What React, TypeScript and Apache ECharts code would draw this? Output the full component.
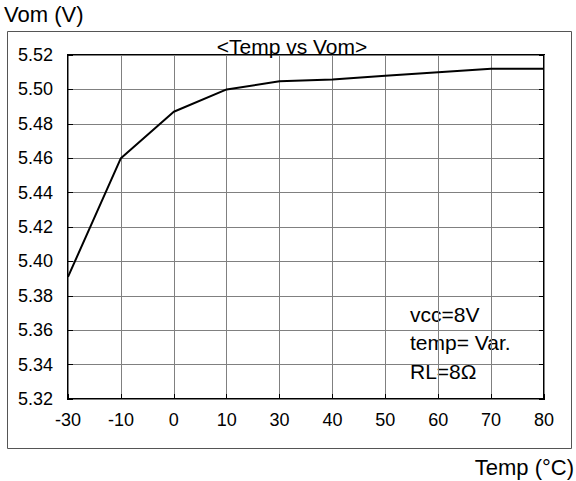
import React, { useEffect, useRef } from "react";
import * as echarts from "echarts";

const categories = ["-30", "-10", "0", "10", "30", "40", "50", "60", "70", "80"];
const vomValues = [5.391, 5.46, 5.487, 5.5, 5.5047, 5.5058, 5.508, 5.51, 5.512, 5.512];
const yMin = 5.32;
const yMax = 5.52;
const yStep = 0.02;
const noteLines = ["vcc=8V", "temp= Var.", "RL=8Ω"];

const FONT = "'Liberation Sans', Arial, sans-serif";

export default function App() {
  const ref = useRef<HTMLDivElement>(null);
  useEffect(() => {
    if (!ref.current) return;
    const chart = echarts.init(ref.current, null, { renderer: "svg" });
    const yAxisBase = {
      type: "value",
      min: yMin,
      max: yMax,
      interval: yStep,
      axisLine: { show: false },
      splitLine: { show: false },
    };
    chart.setOption({
      animation: false,
      backgroundColor: "#fff",
      textStyle: { fontFamily: FONT },
      grid: {
        left: 68,
        right: 32,
        top: 55,
        bottom: 82,
        show: true,
        borderColor: "#000",
        borderWidth: 2,
        backgroundColor: "transparent",
      },
      title: {
        text: "<Temp vs Vom>",
        left: 287,
        top: 31,
        textAlign: "center",
        textStyle: { fontFamily: FONT, fontSize: 21, fontWeight: "normal", color: "#000" },
      },
      xAxis: {
        type: "category",
        data: categories,
        boundaryGap: false,
        axisLine: { show: false },
        axisTick: { show: true, inside: true, length: 5, lineStyle: { color: "#000", width: 1 } },
        axisLabel: { color: "#000", fontSize: 18, fontFamily: FONT, margin: 12 },
        splitLine: { show: true, lineStyle: { color: "#808080", width: 1 } },
      },
      yAxis: [
        {
          ...yAxisBase,
          position: "left",
          axisTick: { show: true, inside: true, length: 5, lineStyle: { color: "#000" } },
          axisLabel: {
            color: "#000",
            fontSize: 18,
            fontFamily: FONT,
            margin: 15,
            formatter: (v: number) => v.toFixed(2),
          },
          splitLine: { show: true, lineStyle: { color: "#808080", width: 1 } },
        },
        {
          ...yAxisBase,
          position: "right",
          axisTick: { show: true, inside: true, length: 5, lineStyle: { color: "#000" } },
          axisLabel: { show: false },
        },
      ],
      series: [
        {
          type: "line",
          data: vomValues,
          symbol: "none",
          lineStyle: { color: "#000", width: 2 },
        },
      ],
      graphic: [
        {
          type: "rect",
          shape: { x: 7.5, y: 31.5, width: 564, height: 417 },
          style: { fill: "none", stroke: "#555", lineWidth: 1 },
          z: -1,
        },
        {
          type: "text",
          x: 4,
          y: 14,
          style: { text: "Vom (V)", fontSize: 22, fontFamily: FONT, fill: "#000", verticalAlign: "middle" },
        },
        {
          type: "text",
          x: 574,
          y: 467,
          style: {
            text: "Temp (°C)",
            fontSize: 22,
            fontFamily: FONT,
            fill: "#000",
            align: "right",
            verticalAlign: "middle",
          },
        },
        ...noteLines.map((t, i) => ({
          type: "text",
          x: 410,
          y: 314 + i * 28.5,
          style: { text: t, fontSize: 21, fontFamily: FONT, fill: "#000", verticalAlign: "middle" },
        })),
      ],
    });
    return () => chart.dispose();
  }, []);
  return (
    <div
      ref={ref}
      style={{ position: "fixed", left: 0, top: 0, width: 576, height: 481, background: "#fff" }}
    />
  );
}
